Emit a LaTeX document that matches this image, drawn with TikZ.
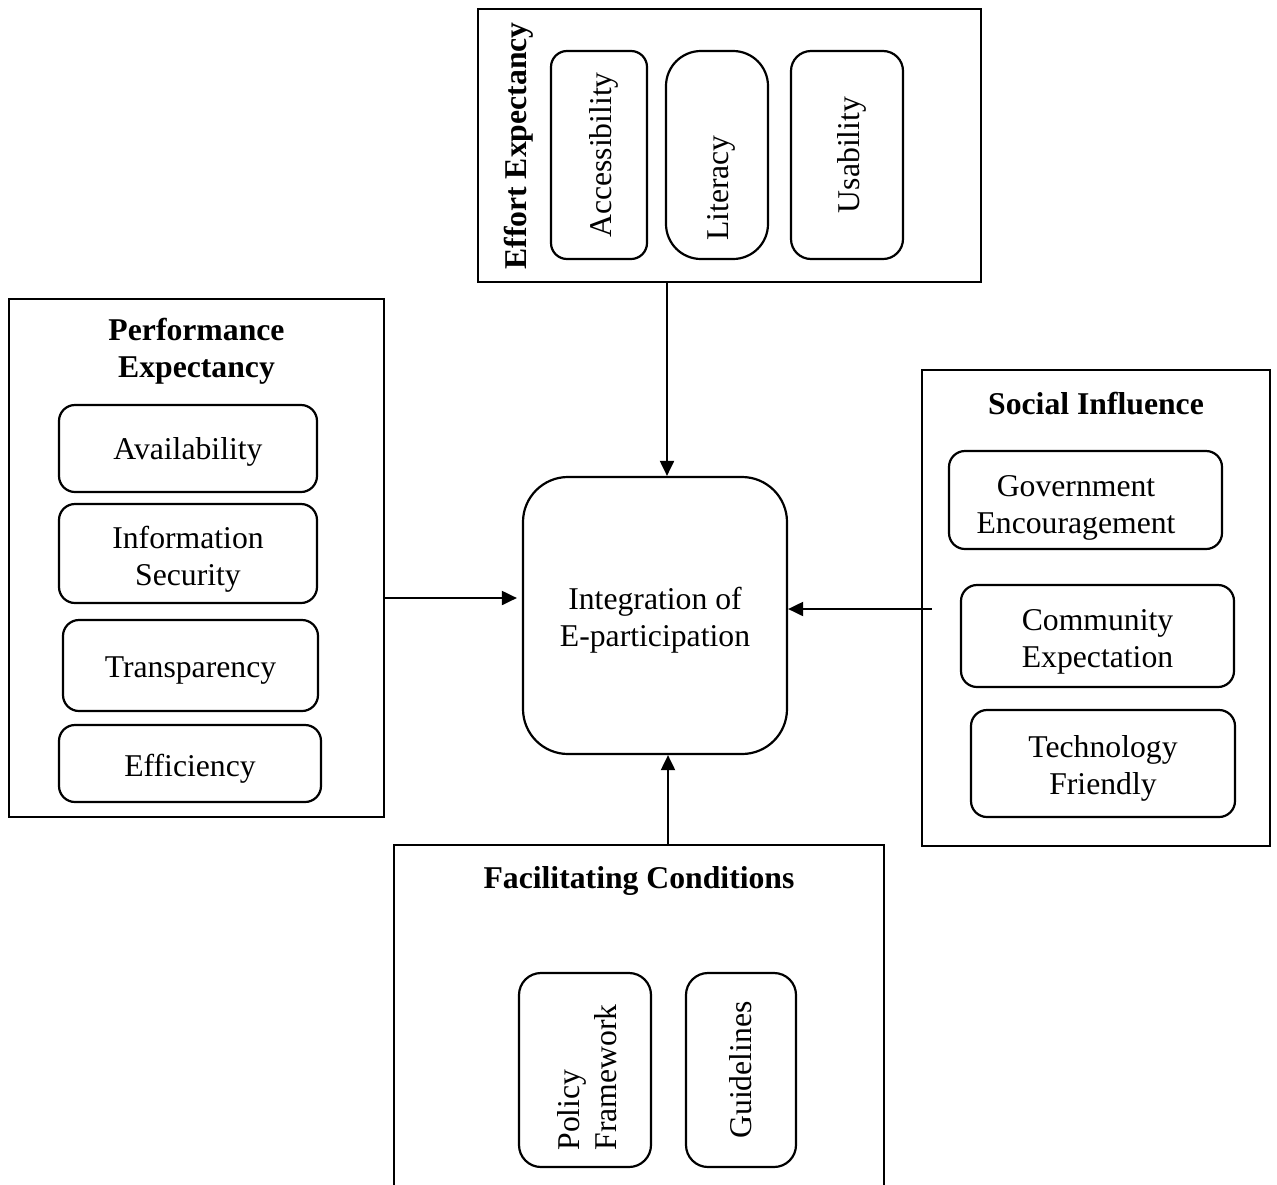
\documentclass[tikz,border=0pt]{standalone}
\usepackage{fontspec}
\setmainfont{Liberation Serif}
\usetikzlibrary{arrows.meta}
\newcommand\txtsize{\fontsize{31.7pt}{37pt}\selectfont}

\begin{document}
\begin{tikzpicture}[x=1pt,y=-1pt,
  frame/.style={draw, line width=2.2pt, inner sep=0pt, rectangle},
  pill/.style={draw, line width=2.2pt, rounded corners=#1, inner sep=0pt},
  pill/.default=16pt,
  ttl/.style={font=\txtsize\bfseries, align=center, inner sep=0pt},
  txt/.style={font=\txtsize, align=center, inner sep=0pt},
  sz/.style 2 args={minimum width=#1pt, minimum height=#2pt},
  conn/.style={line width=2pt, -{Triangle[length=15pt,width=14pt]}}
]
\useasboundingbox (0,0) rectangle (1277,1184);
\clip (0,0) rectangle (1277,1184);

% Effort expectancy
\node[frame, sz={503}{273}] (eff) at (729.5,145.5) {};
\node[ttl, rotate=90] (effT) at (519,146) {Effort Expectancy};
\node[pill, sz={96}{208}] (acc) at (599,155) {};
\node[txt, rotate=90] (accT) at ([xshift=5pt]acc.center) {Accessibility};
\node[pill=35pt, sz={102}{208}] (lit) at (717,155) {};
\node[txt, rotate=90] (litT) at ([xshift=4pt,yshift=-33pt]lit.center) {Literacy};
\node[pill=20pt, sz={112}{208}] (usa) at (847,155) {};
\node[txt, rotate=90] (usaT) at ([xshift=5pt]usa.center) {Usability};

% Central construct
\node[pill=45pt, sz={264}{277}] (integ) at (655,615.5) {};
\node[txt] (integT) at ([yshift=-5pt]integ.center) {Integration of\\E-participation};

% Performance expectancy
\node[frame, sz={375}{518}] (perf) at (196.5,558) {};
\node[ttl] (perfT) at (196.5,351) {Performance\\Expectancy};
\node[pill, sz={258}{87}] (avail) at (188,448.5) {};
\node[txt] (availT) at ([yshift=-3pt]avail.center) {Availability};
\node[pill, sz={258}{99}] (info) at (188,553.5) {};
\node[txt] (infoT) at ([yshift=-6pt]info.center) {Information\\Security};
\node[pill, sz={255}{91}] (transp) at (190.5,665.5) {};
\node[txt] (transpT) at ([yshift=-5pt]transp.center) {Transparency};
\node[pill, sz={262}{77}] (effic) at (190,763.5) {};
\node[txt] (efficT) at ([yshift=-5pt]effic.center) {Efficiency};

% Social influence
\node[frame, sz={348}{476}] (soc) at (1096,608) {};
\node[ttl] (socT) at (1096,404) {Social Influence};
\node[pill, sz={273}{98}] (gov) at (1085.5,500) {};
\node[txt] (govT) at ([xshift=-9.5pt,yshift=-8pt]gov.center) {Government\\Encouragement};
\node[pill, sz={273}{102}] (comm) at (1097.5,636) {};
\node[txt] (commT) at ([yshift=-6pt]comm.center) {Community\\Expectation};
\node[pill, sz={264}{107}] (tech) at (1103,763.5) {};
\node[txt] (techT) at ([yshift=-5pt]tech.center) {Technology\\Friendly};

% Facilitating conditions
\node[frame, sz={490}{360}] (fac) at (639,1025) {};
\node[ttl] (facT) at (639,881) {Facilitating Conditions};
\node[pill=22pt, sz={132}{194}] (pol) at (585,1070) {};
\node[txt, rotate=90, align=left] (polT) at ([xshift=2.5pt,yshift=-7.5pt]pol.center) {Policy\\Framework};
\node[pill=22pt, sz={110}{194}] (gui) at (741,1070) {};
\node[txt, rotate=90] (guiT) at (gui.center) {Guidelines};

% Connectors into the central construct
\draw[conn] ([xshift=-62.5pt]eff.south) -- ([xshift=12pt]integ.north);
\draw[conn, shorten >=5pt] ([yshift=-40pt]perf.east) -- ([yshift=17.5pt]integ.west);
\draw[conn] ([xshift=11pt,yshift=-1pt]soc.west) -- ([yshift=6.5pt]integ.east);
\draw[conn] ([xshift=29pt]fac.north) -- ([xshift=13pt]integ.south);
\end{tikzpicture}
\end{document}
